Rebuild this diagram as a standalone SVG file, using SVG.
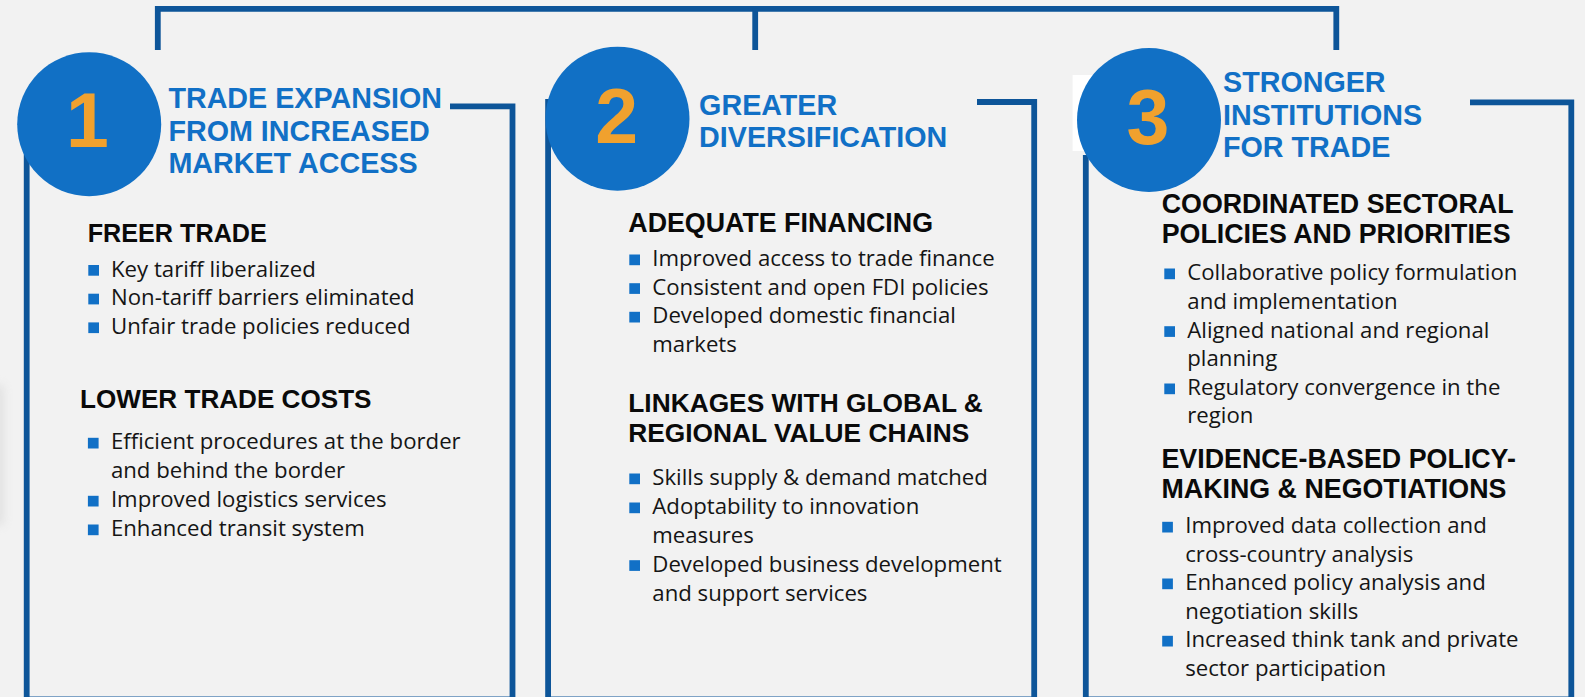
<svg xmlns="http://www.w3.org/2000/svg" width="1585" height="697" viewBox="0 0 1585 697">
  <defs>
    <style>
      .ln { fill: none; stroke: #0D5599; stroke-width: 5.8; }
      .circ { fill: #1170C5; }
      .num { font-family: "Liberation Sans", Arial, sans-serif; font-weight: bold; font-size: 77px; fill: #F0A12E; text-anchor: middle; }
      .ttl { font-family: "Liberation Sans", Arial, sans-serif; font-weight: bold; font-size: 28.7px; fill: #1170C6; }
      .hd { font-family: "Liberation Sans", Arial, sans-serif; font-weight: bold; font-size: 26.8px; fill: #0A0A0A; }
      .bt { font-family: "Open Sans", "Liberation Sans", sans-serif; font-size: 22.2px; fill: #151515; }
      .sq { fill: #1170C6; }
    </style>
    <filter id="blur" x="-1" y="-1" width="3" height="3">
      <feGaussianBlur stdDeviation="5"/>
    </filter>
  </defs>
  <rect x="0" y="0" width="1585" height="697" fill="#F2F2F2"/>
  <rect x="-14" y="385" width="18" height="140" fill="#C4C4C4" opacity="0.35" filter="url(#blur)"/>

  <g id="connectors">
    <path class="ln" d="M157.8 50 V8.8 H1336.3 V50"/>
    <path class="ln" d="M755.2 8.8 V50"/>
  </g>

  <g id="panel1">
    <path class="ln" d="M450 106.3 H512.5 V699.5 H26.7 V150"/>
    <circle class="circ" cx="89.2" cy="124.2" r="72"/>
    <text class="num" x="87.5" y="147">1</text>
    <text class="ttl" x="168.4" y="108">TRADE EXPANSION</text>
    <text class="ttl" x="168.4" y="140.5">FROM INCREASED</text>
    <text class="ttl" x="168.4" y="172.5">MARKET ACCESS</text>
    <text class="hd" x="87.7" y="241.7" style="font-size:25.2px">FREER TRADE</text>
    <rect class="sq" x="88.3" y="265" width="10.7" height="10.7"/>
    <text class="bt" x="111" y="276.7">Key tariff liberalized</text>
    <rect class="sq" x="88.3" y="293.7" width="10.7" height="10.7"/>
    <text class="bt" x="111" y="305.3">Non-tariff barriers eliminated</text>
    <rect class="sq" x="88.3" y="322.4" width="10.7" height="10.7"/>
    <text class="bt" x="111" y="334">Unfair trade policies reduced</text>
    <text class="hd" x="80.1" y="408.3" style="font-size:26.1px">LOWER TRADE COSTS</text>
    <rect class="sq" x="87.9" y="437.8" width="10.7" height="10.7"/>
    <text class="bt" x="110.9" y="449.3">Efficient procedures at the border</text>
    <text class="bt" x="110.9" y="478.3">and behind the border</text>
    <rect class="sq" x="87.9" y="495.8" width="10.7" height="10.7"/>
    <text class="bt" x="110.9" y="507.3">Improved logistics services</text>
    <rect class="sq" x="87.9" y="524.5" width="10.7" height="10.7"/>
    <text class="bt" x="110.9" y="536">Enhanced transit system</text>
  </g>

  <g id="panel2">
    <path class="ln" d="M977 102 H1034.2 V699.5 H548.1 V99"/>
    <circle class="circ" cx="617.5" cy="118.7" r="72"/>
    <text class="num" x="616.7" y="143">2</text>
    <text class="ttl" x="699.1" y="115">GREATER</text>
    <text class="ttl" x="699.1" y="146.7">DIVERSIFICATION</text>
    <text class="hd" x="628.3" y="231.7">ADEQUATE FINANCING</text>
    <rect class="sq" x="629.3" y="254.5" width="10.7" height="10.7"/>
    <text class="bt" x="652.3" y="266">Improved access to trade finance</text>
    <rect class="sq" x="629.3" y="283.2" width="10.7" height="10.7"/>
    <text class="bt" x="652.3" y="294.7">Consistent and open FDI policies</text>
    <rect class="sq" x="629.3" y="311.8" width="10.7" height="10.7"/>
    <text class="bt" x="652.3" y="323.3">Developed domestic financial</text>
    <text class="bt" x="652.3" y="352.3">markets</text>
    <text class="hd" x="628.3" y="411.7" style="font-size:26.3px">LINKAGES WITH GLOBAL &amp;</text>
    <text class="hd" x="628.3" y="441.7" style="font-size:26.3px">REGIONAL VALUE CHAINS</text>
    <rect class="sq" x="629.3" y="473.5" width="10.7" height="10.7"/>
    <text class="bt" x="652.3" y="485">Skills supply &amp; demand matched</text>
    <rect class="sq" x="629.3" y="502.5" width="10.7" height="10.7"/>
    <text class="bt" x="652.3" y="514">Adoptability to innovation</text>
    <text class="bt" x="652.3" y="542.7">measures</text>
    <rect class="sq" x="629.3" y="560.2" width="10.7" height="10.7"/>
    <text class="bt" x="652.3" y="571.7">Developed business development</text>
    <text class="bt" x="652.3" y="600.7">and support services</text>
  </g>

  <g id="panel3">
    <path class="ln" d="M1470 102.3 H1571.3 V699.5 H1085.8 V155"/>
    <rect x="1072.6" y="75" width="30" height="76" fill="#FFFFFF"/>
    <circle class="circ" cx="1149" cy="120" r="72"/>
    <text class="num" x="1148" y="144">3</text>
    <text class="ttl" x="1223" y="92.3">STRONGER</text>
    <text class="ttl" x="1223" y="125">INSTITUTIONS</text>
    <text class="ttl" x="1223" y="156.7">FOR TRADE</text>
    <text class="hd" x="1161.7" y="213.3">COORDINATED SECTORAL</text>
    <text class="hd" x="1161.7" y="243.3">POLICIES AND PRIORITIES</text>
    <rect class="sq" x="1164.3" y="268.5" width="10.7" height="10.7"/>
    <text class="bt" x="1187.3" y="280">Collaborative policy formulation</text>
    <text class="bt" x="1187.3" y="309">and implementation</text>
    <rect class="sq" x="1164.3" y="326.2" width="10.7" height="10.7"/>
    <text class="bt" x="1187.3" y="337.7">Aligned national and regional</text>
    <text class="bt" x="1187.3" y="366">planning</text>
    <rect class="sq" x="1164.3" y="383.5" width="10.7" height="10.7"/>
    <text class="bt" x="1187.3" y="395">Regulatory convergence in the</text>
    <text class="bt" x="1187.3" y="423.3">region</text>
    <text class="hd" x="1161.5" y="468.3">EVIDENCE-BASED POLICY-</text>
    <text class="hd" x="1161.5" y="497.7">MAKING &amp; NEGOTIATIONS</text>
    <rect class="sq" x="1162.2" y="521.8" width="10.7" height="10.7"/>
    <text class="bt" x="1185.2" y="533.3">Improved data collection and</text>
    <text class="bt" x="1185.2" y="562">cross-country analysis</text>
    <rect class="sq" x="1162.2" y="578.5" width="10.7" height="10.7"/>
    <text class="bt" x="1185.2" y="590">Enhanced policy analysis and</text>
    <text class="bt" x="1185.2" y="619">negotiation skills</text>
    <rect class="sq" x="1162.2" y="635.8" width="10.7" height="10.7"/>
    <text class="bt" x="1185.2" y="647.3">Increased think tank and private</text>
    <text class="bt" x="1185.2" y="676">sector participation</text>
  </g>
</svg>
